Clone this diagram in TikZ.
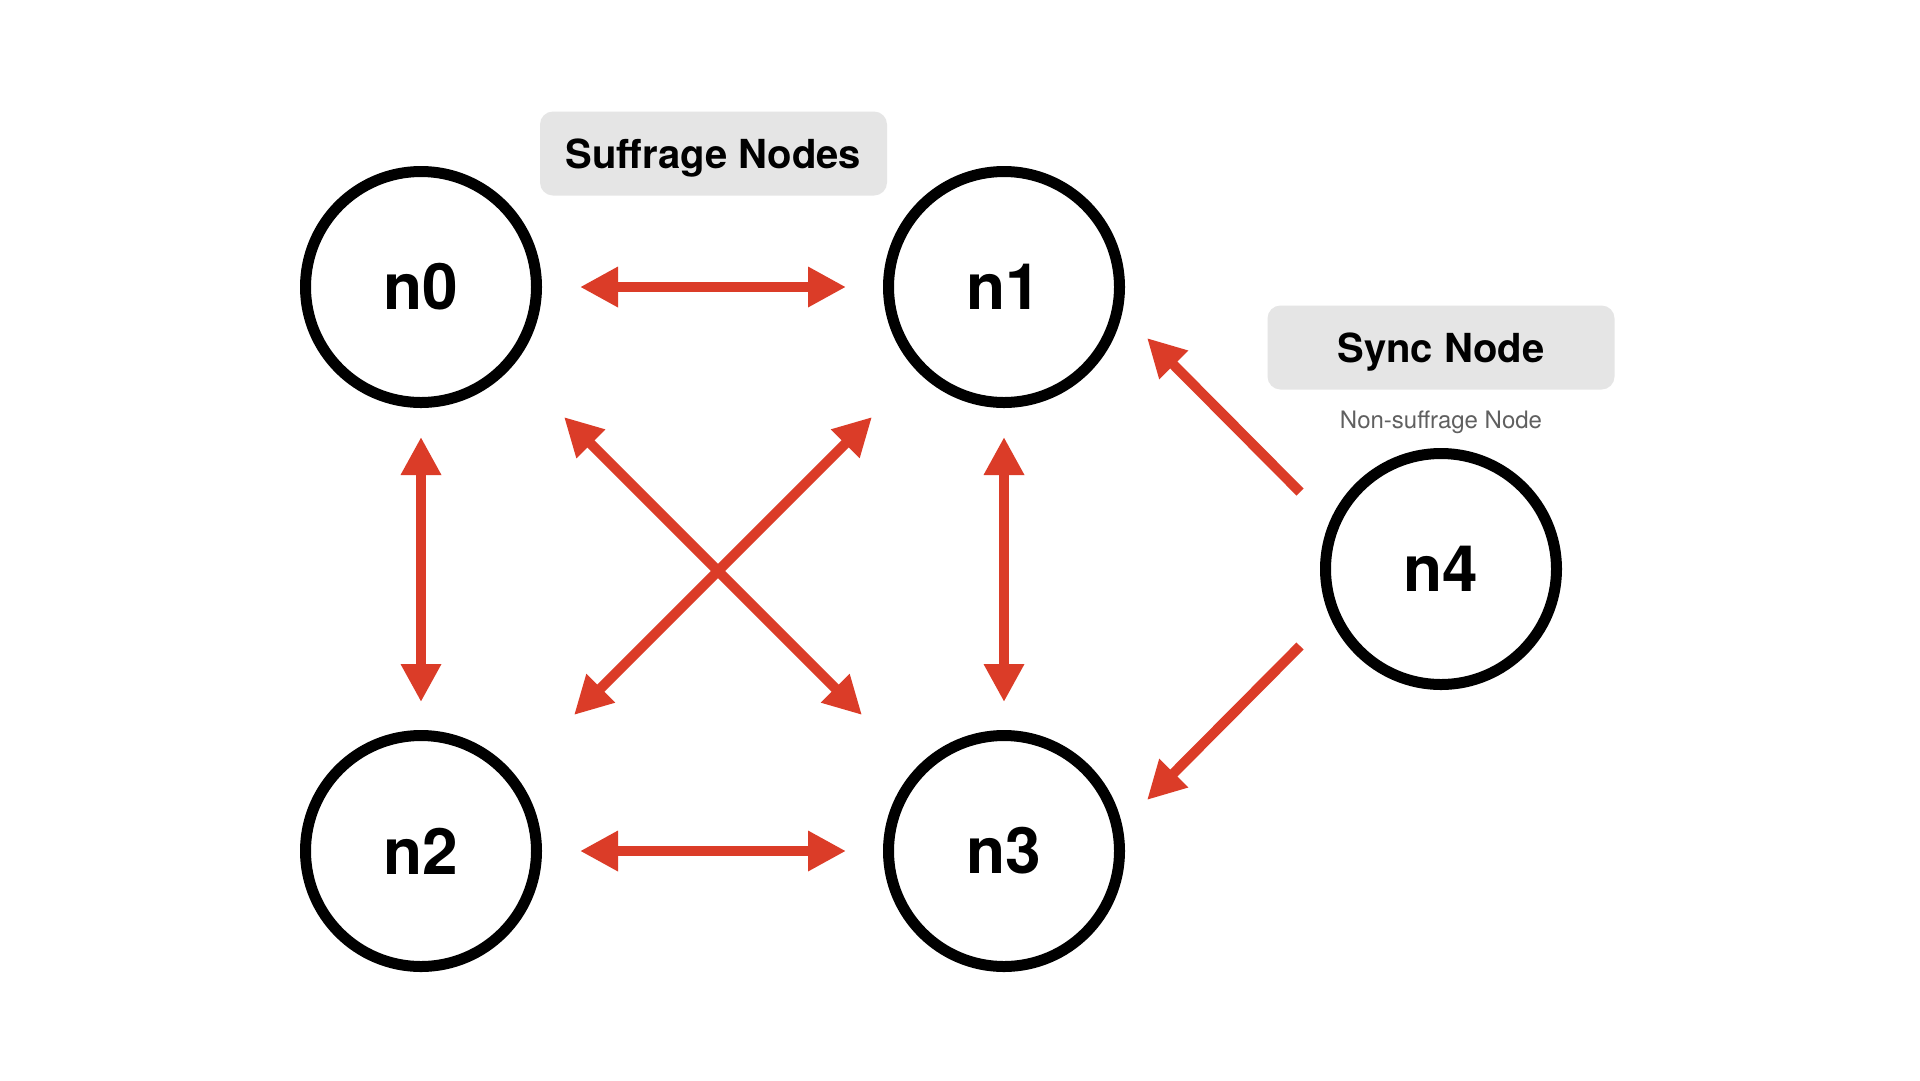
\documentclass[tikz,border=0pt]{standalone}
\usepackage{fontspec}
\setmainfont{TeX Gyre Heros}
\usetikzlibrary{arrows.meta}
\definecolor{arrowred}{RGB}{219,60,40}
\definecolor{boxgray}{RGB}{229,229,229}
\definecolor{subgray}{RGB}{96,96,96}
\begin{document}
\begin{tikzpicture}[x=1pt,y=-1pt,
  peer/.style={circle, draw=black, line width=11pt, minimum size=231pt, inner sep=0pt,
    font=\fontsize{64}{72}\selectfont\bfseries},
  tipR/.tip={Triangle[length=38pt,width=38pt]},
  link/.style={draw=arrowred, line width=10pt, -tipR},
  bilink/.style={draw=arrowred, line width=10pt, tipR-tipR},
  labelbox/.style={fill=boxgray, rounded corners=13pt, minimum width=347pt, minimum height=84pt,
    inner sep=0pt, text height=29pt, text depth=0pt, font=\fontsize{40}{48}\selectfont\bfseries},
  sublabel/.style={inner sep=0pt, text height=17pt, text depth=0pt, text=subgray,
    font=\fontsize{24}{28}\selectfont}]
\useasboundingbox[fill=white] (0,0) rectangle (1920,1080);

% nodes
\node[peer] (n0) at (421,287) {n0};
\node[peer] (n1) at (1004,287) {n1};
\node[peer] (n2) at (421,851) {n2};
\node[peer] (n3) at (1004,851) {n3};
\node[peer] (n4) at (1441,569) {n4};

% labels
\node[labelbox] (suff) at (713.5,153.5) {Suffrage Nodes};
\node[labelbox] (sync) at (1441,347.5) {Sync Node};
\node[sublabel] (nonsuff) at (1441,420) {Non-suffrage Node};

% connector end points
\coordinate (h0a) at (580,287);
\coordinate (h0b) at (846,287);
\coordinate (h1a) at (580,851);
\coordinate (h1b) at (846,851);
\coordinate (v0a) at (421,437);
\coordinate (v0b) at (421,702);
\coordinate (v1a) at (1004,437);
\coordinate (v1b) at (1004,702);
\coordinate (d0a) at (564,417);
\coordinate (d0b) at (862,715);
\coordinate (d1a) at (872,417);
\coordinate (d1b) at (574,715);
\coordinate (s1a) at (1300,492);
\coordinate (s1b) at (1147,338);
\coordinate (s3a) at (1300,646);
\coordinate (s3b) at (1147,800);

% connectors
\draw[bilink] (h0a) -- (h0b);
\draw[bilink] (h1a) -- (h1b);
\draw[bilink] (v0a) -- (v0b);
\draw[bilink] (v1a) -- (v1b);
\draw[bilink] (d0a) -- (d0b);
\draw[bilink] (d1a) -- (d1b);
\draw[link] (s1a) -- (s1b);
\draw[link] (s3a) -- (s3b);
\end{tikzpicture}
\end{document}
